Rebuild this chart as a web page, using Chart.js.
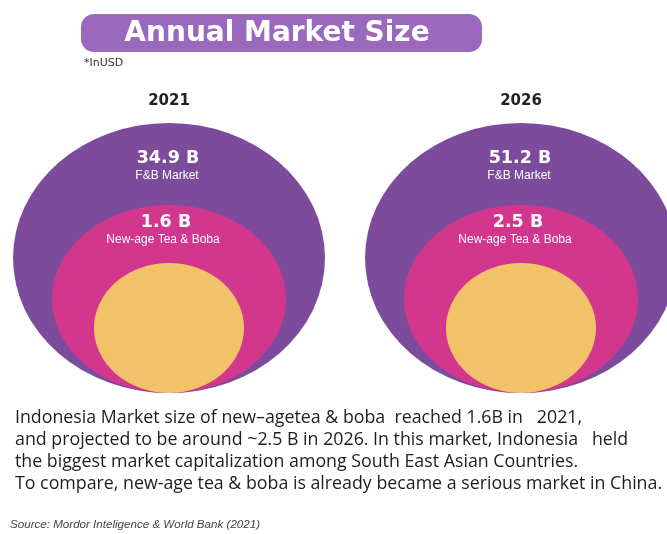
<!DOCTYPE html>
<html>
<head>
<meta charset="utf-8">
<script src="https://cdn.jsdelivr.net/npm/chart.js@4.4.1/dist/chart.umd.min.js"></script>
<style>
  html, body { margin: 0; padding: 0; background: #fff; }
  #wrap { width: 667px; height: 534px; }
</style>
</head>
<body>
<div id="wrap"><canvas id="marketChart" width="667" height="534"></canvas></div>
<script>
// market sizes in billion USD
const years = ['2021', '2026'];
const fbMarket = [34.9, 51.2];
const teaBoba = [1.6, 2.5];
const seriesNames = ['F&B Market', 'New-age Tea & Boba'];

const notes = [
    'Indonesia Market size of new\u2013agetea & boba  reached 1.6B in   2021,',
    'and projected to be around ~2.5 B in 2026. In this market, Indonesia   held',
    'the biggest market capitalization among South East Asian Countries.',
    'To compare, new-age tea & boba is already became a serious market in China.'
];
const sourceNote = 'Source: Mordor Inteligence & World Bank (2021)';

const colors = {
    outer: '#7d4b9c',
    middle: '#d2378d',
    inner: '#f2c26a',
    pill: '#9a69be'
};

// every ring sprite has the same height so the ellipses sit on a common bottom
const SPRITE_H = 272;
function ringSprite(rx, ry, color) {
    const c = document.createElement('canvas');
    c.width = Math.ceil(rx * 2) + 2;
    c.height = SPRITE_H;
    const g = c.getContext('2d');
    g.fillStyle = color;
    g.beginPath();
    g.ellipse(c.width / 2, SPRITE_H - 1 - ry, rx, ry, 0, 0, Math.PI * 2);
    g.fill();
    return c;
}

const outerRing = ringSprite(156, 135, colors.outer);
const middleRing = ringSprite(117, 94, colors.middle);
const innerRing = ringSprite(75, 65, colors.inner);

function ringData() {
    return years.map(y => ({ x: y, y: 0 }));
}

const labelPlugin = {
    id: 'labelPlugin',
    beforeDraw(chart) {
        const ctx = chart.ctx;
        ctx.save();
        ctx.fillStyle = '#fff';
        ctx.fillRect(0, 0, chart.width, chart.height);
        ctx.restore();
    },
    afterDraw(chart) {
        const ctx = chart.ctx;
        const xs = chart.scales.x;
        ctx.save();

        // title pill
        ctx.fillStyle = colors.pill;
        ctx.beginPath();
        ctx.roundRect(81, 14, 401, 38, 13);
        ctx.fill();
        ctx.fillStyle = '#fff';
        ctx.font = 'bold 28px "DejaVu Sans"';
        ctx.textAlign = 'center';
        ctx.textBaseline = 'middle';
        ctx.fillText('Annual Market Size', 277, 34);

        ctx.fillStyle = '#333';
        ctx.font = '11px "DejaVu Sans"';
        ctx.textAlign = 'left';
        ctx.fillText('*InUSD', 84, 63);

        years.forEach((year, i) => {
            const cx = xs.getPixelForValue(i);
            ctx.textAlign = 'center';
            ctx.fillStyle = '#222';
            ctx.font = 'bold 15px "DejaVu Sans"';
            ctx.fillText(year, cx, 101);

            ctx.fillStyle = '#fff';
            ctx.font = 'bold 17.5px "DejaVu Sans"';
            ctx.fillText(fbMarket[i] + ' B', cx - 1, 158);
            ctx.fillText(teaBoba[i] + ' B', cx - 3, 222);

            ctx.font = '12px "Liberation Sans"';
            ctx.fillText(seriesNames[0], cx - 2, 176);
            ctx.fillText(seriesNames[1], cx - 6, 240);
        });

        // description below the rings
        ctx.textAlign = 'left';
        ctx.fillStyle = '#1e1e1e';
        ctx.font = '17.8px "Open Sans"';
        notes.forEach((line, i) => {
            ctx.fillText(line, 15, 418 + i * 22);
        });

        ctx.fillStyle = '#444';
        ctx.font = 'italic 11.6px "Liberation Sans"';
        ctx.fillText(sourceNote, 10, 525);

        ctx.restore();
    }
};

new Chart(document.getElementById('marketChart'), {
    type: 'scatter',
    data: {
        labels: years,
        datasets: [
            {
                label: seriesNames[0],
                data: ringData(),
                pointStyle: outerRing,
                order: 3,
                clip: false
            },
            {
                label: seriesNames[1],
                data: ringData(),
                pointStyle: middleRing,
                order: 2,
                clip: false
            },
            {
                label: 'core',
                data: ringData(),
                pointStyle: innerRing,
                order: 1,
                clip: false
            }
        ]
    },
    options: {
        responsive: false,
        animation: false,
        events: [],
        layout: { padding: { left: 169, right: 146, top: 123, bottom: 141 } },
        scales: {
            x: { type: 'category', labels: years, offset: false, display: false },
            y: { type: 'linear', min: -1, max: 1, display: false }
        },
        plugins: {
            legend: { display: false },
            tooltip: { enabled: false }
        }
    },
    plugins: [labelPlugin]
});
</script>
</body>
</html>
